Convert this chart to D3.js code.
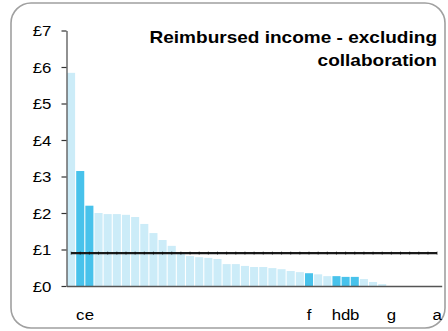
<!DOCTYPE html>
<html>
<head>
<meta charset="utf-8">
<script src="https://cdn.jsdelivr.net/npm/d3@7"></script>
<style>
  body { margin: 0; background: #fff; }
  svg { display: block; font-family: "Liberation Sans", Arial, sans-serif; }
</style>
</head>
<body>
<svg id="vis" width="448" height="331"></svg>
<script>
// bar values in £, one per institution, sorted high to low
const values = [5.84, 3.15, 2.20, 2.00, 1.97, 1.97, 1.95, 1.89, 1.70, 1.45,
                1.26, 1.10, 0.88, 0.82, 0.79, 0.77, 0.74, 0.60, 0.60, 0.55,
                0.52, 0.52, 0.49, 0.46, 0.41, 0.38, 0.35, 0.32, 0.27, 0.27,
                0.25, 0.25, 0.19, 0.11, 0.05, 0, 0, 0, 0, 0, 0];
// only a few institutions are named
const labels = ["", "c", "e", "", "", "", "", "", "", "",
                "", "", "", "", "", "", "", "", "", "",
                "", "", "", "", "", "", "f", "", "", "h",
                "d", "b", "", "", "", "g", "", "", "", "", "a"];
const average = 0.9;
const yTicks = [0, 1, 2, 3, 4, 5, 6, 7];
const titleLines = ["Reimbursed income - excluding", "collaboration"];

function chart() {
    let svg = d3.select("#vis");
    const sx = 1.12; // the original picture is stretched a little sideways

    // rounded frame
    svg.append("rect")
        .attr("x", 11).attr("y", 3)
        .attr("width", 434).attr("height", 325)
        .attr("rx", 20).attr("ry", 20)
        .attr("fill", "#fff")
        .attr("stroke", "#a0a0a0")
        .attr("stroke-width", 1.6);

    let margin = {left: 66.5, top: 30.5, right: 6.3, bottom: 45};
    let width = 448 - margin.left - margin.right;
    let height = 331 - margin.top - margin.bottom;
    let g = svg.append("g").attr("transform", `translate(${margin.left}, ${margin.top})`);

    let idx = values.map((d, i) => i);
    let x = d3.scaleBand()
        .domain(idx)
        .range([0, width])
        .paddingInner(0.12)
        .paddingOuter(0.06);
    let y = d3.scaleLinear()
        .domain([0, 7])
        .range([height, 0]);

    // bars
    g.selectAll(".bar")
        .data(idx)
        .enter().append("rect")
            .attr("class", "bar")
            .attr("x", i => x(i))
            .attr("y", i => y(values[i]))
            .attr("width", x.bandwidth())
            .attr("height", i => height - y(values[i]))
            .attr("fill", i => labels[i] ? "#48c2eb" : "#ccecf8");

    // average line
    let line = d3.line()
        .x(i => x(i) + x.bandwidth() / 2)
        .y(() => y(average));
    g.append("path")
        .datum(idx)
        .attr("d", line)
        .attr("fill", "none")
        .attr("stroke", "#1a1a1a")
        .attr("stroke-width", 2.2);
    g.selectAll(".mark")
        .data(idx)
        .enter().append("rect")
            .attr("class", "mark")
            .attr("x", i => x(i) + x.bandwidth() / 2 - 0.5)
            .attr("y", y(average) - 1.7)
            .attr("width", 1)
            .attr("height", 3.4)
            .attr("fill", "#000")
            .attr("opacity", 0.45);

    // y axis
    let yAxis = g.append("g")
        .call(d3.axisLeft(y).tickValues(yTicks).tickSize(5).tickSizeOuter(0)
            .tickFormat(d => "£" + d));
    yAxis.select(".domain").attr("stroke", "#555").attr("stroke-width", 1.3);
    yAxis.selectAll(".tick line").attr("stroke", "#333").attr("stroke-width", 1.2);
    yAxis.selectAll(".tick text")
        .attr("x", -13.5)
        .attr("dy", "0.36em")
        .attr("transform", `scale(${sx},1)`)
        .attr("font-family", "Liberation Sans, Arial, sans-serif")
        .attr("font-size", 15)
        .attr("fill", "#000");

    // x axis
    let xAxis = g.append("g")
        .attr("transform", `translate(0, ${height})`)
        .call(d3.axisBottom(x).tickSize(0).tickSizeOuter(0)
            .tickFormat(i => labels[i]));
    xAxis.select(".domain").attr("stroke", "#555").attr("stroke-width", 1.3);
    xAxis.selectAll(".tick text")
        .attr("y", 23.5)
        .attr("dy", "0.71em")
        .attr("transform", `scale(${sx},1)`)
        .attr("font-family", "Liberation Sans, Arial, sans-serif")
        .attr("font-size", 15)
        .attr("fill", "#000");

    // title, right aligned
    svg.append("g")
        .selectAll("text")
        .data(titleLines)
        .enter().append("text")
            .attr("transform", (d, i) => `translate(437, ${43 + i * 22.5}) scale(${sx},1)`)
            .attr("text-anchor", "end")
            .attr("font-weight", "bold")
            .attr("font-size", 17)
            .attr("fill", "#000")
            .text(d => d);
}

document.addEventListener('DOMContentLoaded', () => {
    chart();
})
</script>
</body>
</html>
